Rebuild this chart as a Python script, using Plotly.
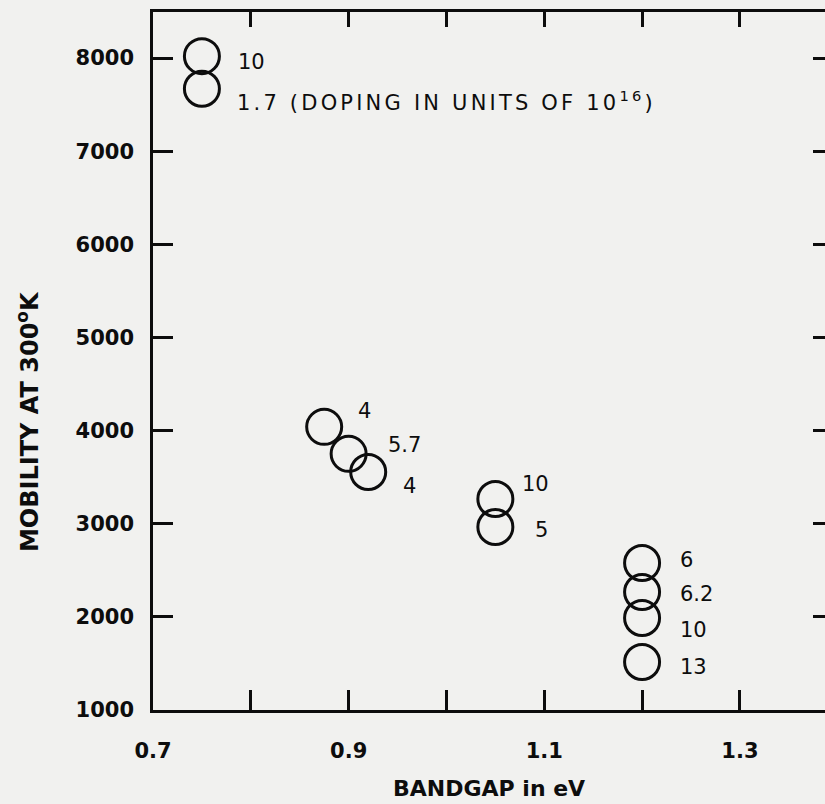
import plotly.graph_objects as go

# Data
bandgap_ev = [0.75, 0.75, 0.875, 0.90, 0.92, 1.05, 1.05, 1.20, 1.20, 1.20, 1.20]
mobility = [8020, 7670, 4040, 3750, 3555, 3265, 2965, 2578, 2267, 1988, 1515]
doping_labels = ["10", "1.7 (DOPING IN UNITS OF 10<sup>16</sup>)", "4", "5.7", "4",
                 "10", "5", "6", "6.2", "10", "13"]

x_major_ticks = [0.7, 0.9, 1.1, 1.3]
x_major_text = ["0.7", "0.9", "1.1", "1.3"]
x_minor_ticks = [0.8, 1.0, 1.2]
x_all_ticks = [0.7, 0.8, 0.9, 1.0, 1.1, 1.2, 1.3]
y_tick_vals = [1000, 2000, 3000, 4000, 5000, 6000, 7000, 8000]
y_tick_text = ["1000", "2000", "3000", "4000", "5000", "6000", "7000", "8000"]

# label offsets in pixels (style only)
label_dx = [34, 33, 32, 37, 33, 25, 38, 36, 36, 36, 36]
label_dy = [-6, -12, 16, 9, -14, 15, -3, 3, -2, -12, -5]

BG = "#f1f1ef"
INK = "#0d0d0d"
FONT = "DejaVu Sans"
X_RANGE = [0.7, 1.387]
Y_RANGE = [1000, 8494]

fig = go.Figure()
fig.add_trace(go.Scatter(
    x=bandgap_ev, y=mobility, mode="markers",
    marker=dict(symbol="circle-open", size=35, color=INK, line=dict(width=3, color=INK)),
    hoverinfo="skip", showlegend=False,
))
# invisible trace to anchor the top / right tick axes
fig.add_trace(go.Scatter(x=[bandgap_ev[0]], y=[mobility[0]], xaxis="x2", yaxis="y2", mode="markers",
                         marker=dict(size=1, opacity=0), hoverinfo="skip", showlegend=False))

for xv, yv, t, dx, dy in zip(bandgap_ev, mobility, doping_labels, label_dx, label_dy):
    fig.add_annotation(x=xv, y=yv, text=t, showarrow=False, xanchor="left", yanchor="middle",
                       xshift=dx, yshift=dy, font=dict(family=FONT, size=21, color=INK))

fig.add_annotation(xref="paper", yref="paper", x=0.5, y=-0.113, text="BANDGAP in eV",
                   showarrow=False, xanchor="center", yanchor="middle",
                   font=dict(family=FONT, size=22, color=INK, weight="bold"))
fig.add_annotation(xref="paper", yref="paper", x=-0.186, y=0.4126, text="MOBILITY AT 300<sup>o</sup>K",
                   showarrow=False, xanchor="center", yanchor="middle", textangle=-90,
                   font=dict(family=FONT, size=24, color=INK, weight="bold"))

axis_font = dict(family=FONT, size=21, color=INK, weight="bold")
fig.update_layout(
    width=825, height=804,
    margin=dict(l=153, r=0, t=12, b=94),
    paper_bgcolor=BG, plot_bgcolor=BG,
    xaxis=dict(range=X_RANGE, tickvals=x_major_ticks, ticktext=x_major_text,
               ticks="inside", ticklen=20, tickwidth=2.5, tickcolor=INK,
               minor=dict(tickvals=x_minor_ticks, ticks="inside", ticklen=20, tickwidth=2.5,
                          tickcolor=INK, showgrid=False),
               showline=True, linewidth=2.5, linecolor=INK, mirror=True,
               showgrid=False, zeroline=False, tickfont=axis_font, ticklabelstandoff=20),
    xaxis2=dict(range=X_RANGE, overlaying="x", side="top", tickvals=x_all_ticks,
                showticklabels=False, ticks="inside", ticklen=15, tickwidth=2.5, tickcolor=INK,
                showline=False, showgrid=False, zeroline=False),
    yaxis=dict(range=Y_RANGE, tickvals=y_tick_vals, ticktext=y_tick_text,
               ticks="inside", ticklen=20, tickwidth=2.5, tickcolor=INK,
               showline=True, linewidth=2.5, linecolor=INK, mirror=False,
               showgrid=False, zeroline=False, tickfont=axis_font, ticklabelstandoff=12),
    yaxis2=dict(range=Y_RANGE, overlaying="y", side="right", tickvals=y_tick_vals,
                showticklabels=False, ticks="inside", ticklen=12, tickwidth=2.5, tickcolor=INK,
                showline=False, showgrid=False, zeroline=False),
)

post = """
document.body.style.margin = '0px';
document.body.style.background = '#f1f1ef';
document.querySelectorAll('.annotation-text').forEach(function (el) {
  if (el.textContent.indexOf('DOPING') >= 0) {
    var left0 = el.getBBox().x;
    el.setAttribute('letter-spacing', '3.2px');
    var left1 = el.getBBox().x;
    var x0 = parseFloat(el.getAttribute('x')) || 0;
    el.setAttribute('x', x0 + (left0 - left1));
  }
});
"""
fig.write_html("out.html", post_script=post, config={"displayModeBar": False})
